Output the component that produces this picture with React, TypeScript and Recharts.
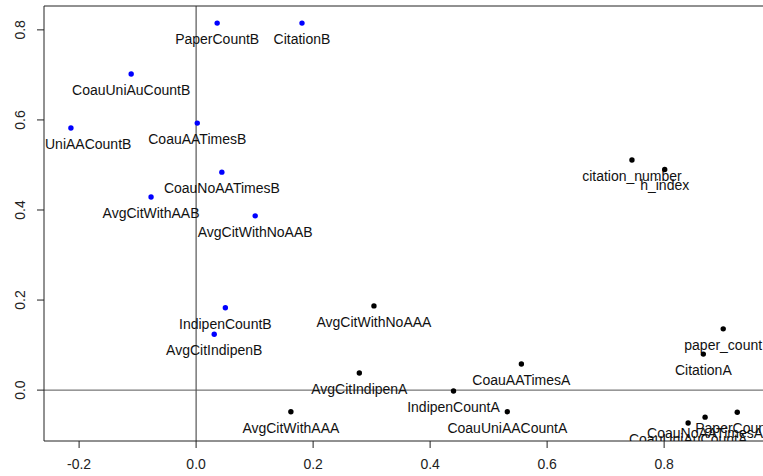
import { ScatterChart, Scatter, XAxis, YAxis, ReferenceLine } from 'recharts'

// loadings, group B (blue)
const namesB = ['PaperCountB', 'CitationB', 'CoauUniAuCountB', 'UniAACountB', 'CoauAATimesB', 'CoauNoAATimesB', 'AvgCitWithAAB', 'AvgCitWithNoAAB', 'IndipenCountB', 'AvgCitIndipenB']
const xB = [0.036, 0.181, -0.111, -0.214, 0.002, 0.044, -0.077, 0.101, 0.050, 0.031]
const yB = [0.815, 0.815, 0.702, 0.582, 0.593, 0.484, 0.429, 0.387, 0.183, 0.124]

// group A + overall metrics (black)
const namesA = ['citation_number', 'h_index', 'AvgCitWithNoAAA', 'paper_count', 'CitationA', 'AvgCitIndipenA', 'CoauAATimesA', 'IndipenCountA', 'AvgCitWithAAA', 'CoauUniAACountA', 'CoauUniAuCountA', 'CoauNoAATimesA', 'PaperCountA']
const xA = [0.745, 0.801, 0.304, 0.901, 0.867, 0.279, 0.556, 0.440, 0.162, 0.532, 0.841, 0.870, 0.925]
const yA = [0.511, 0.490, 0.187, 0.136, 0.080, 0.038, 0.058, -0.002, -0.048, -0.048, -0.073, -0.060, -0.049]

const xTicks = [-0.2, 0, 0.2, 0.4, 0.6, 0.8]
const yTicks = [0, 0.2, 0.4, 0.6, 0.8]

const dataB = namesB.map((name, i) => ({ name, x: xB[i], y: yB[i] }))
const dataA = namesA.map((name, i) => ({ name, x: xA[i], y: yA[i] }))

const FONT = '"Liberation Sans", Arial, sans-serif'
const PLOT_LEFT = 44

function pointShape(color: string) {
  return (props: any) => {
    const { cx, cy, payload } = props
    const w = payload.name.length * 7.8
    const clamp = cx - w / 2 < PLOT_LEFT
    return (
      <g>
        <circle cx={cx} cy={cy} r={2.7} fill={color} />
        <text
          x={clamp ? PLOT_LEFT + 1 : cx}
          y={cy + 21}
          textAnchor={clamp ? 'start' : 'middle'}
          fontFamily={FONT}
          fontSize={14}
          fill="#111"
        >
          {payload.name}
        </text>
      </g>
    )
  }
}

const XTick = (props: any) => {
  const { x, payload } = props
  return (
    <text x={x} y={469} textAnchor="middle" fontFamily={FONT} fontSize={14} fill="#222">
      {payload.value.toFixed(1)}
    </text>
  )
}

const YTick = (props: any) => {
  const { y, payload } = props
  return (
    <text transform={`translate(25, ${y}) rotate(-90)`} textAnchor="middle" fontFamily={FONT} fontSize={14} fill="#222">
      {payload.value.toFixed(1)}
    </text>
  )
}

export default function App() {
  return (
    <div style={{ position: 'absolute', left: 0, top: 0, background: '#fff' }}>
      <ScatterChart width={763} height={476} margin={{ top: 6, right: 0, bottom: 0, left: 0 }}>
        <XAxis
          type="number"
          dataKey="x"
          domain={[-0.26, 0.969]}
          ticks={xTicks}
          allowDataOverflow
          height={35}
          tickSize={7}
          tick={<XTick />}
          axisLine={{ stroke: '#222' }}
          tickLine={{ stroke: '#222' }}
        />
        <YAxis
          type="number"
          dataKey="y"
          domain={[-0.113, 0.853]}
          ticks={yTicks}
          allowDataOverflow
          width={44}
          tickSize={7}
          tick={<YTick />}
          axisLine={{ stroke: '#222' }}
          tickLine={{ stroke: '#222' }}
        />
        <ReferenceLine y={0.853} stroke="#222" />
        <ReferenceLine x={0} stroke="#333" />
        <ReferenceLine y={0} stroke="#555" />
        <Scatter data={dataB} fill="#0000ff" shape={pointShape('#0000ff')} isAnimationActive={false} />
        <Scatter data={dataA} fill="#000" shape={pointShape('#000')} isAnimationActive={false} />
      </ScatterChart>
    </div>
  )
}
